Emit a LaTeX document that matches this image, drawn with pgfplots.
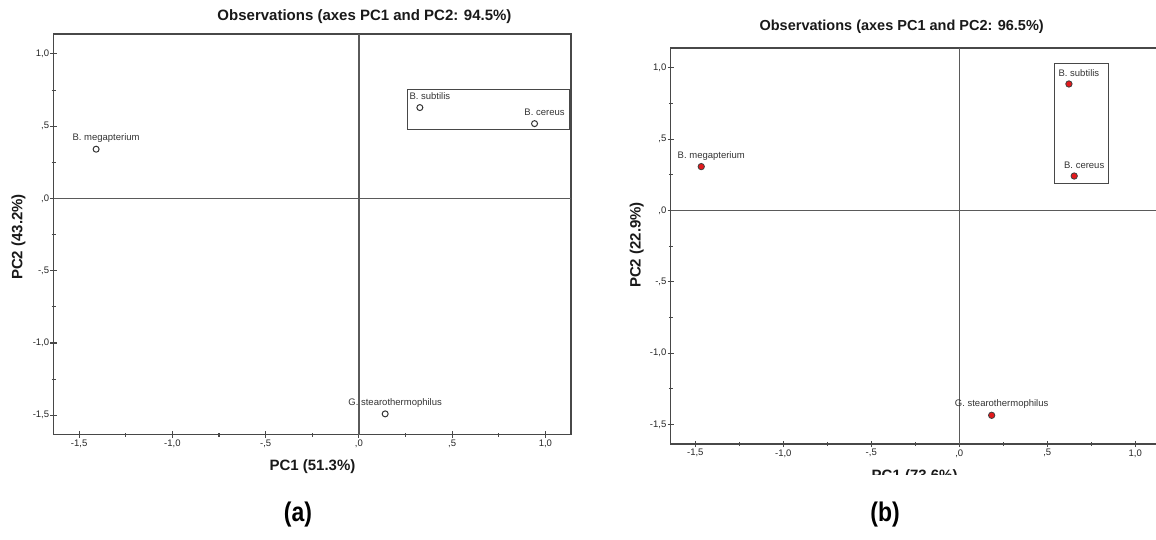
\documentclass[border=0pt]{standalone}
\usepackage{pgfplots}
\pgfplotsset{compat=1.18}
\usepackage{fontspec}
\setmainfont{Liberation Sans}
\usepackage{graphicx}
\definecolor{axgray}{HTML}{484848}
\definecolor{ptred}{HTML}{E3191C}
\newcommand{\fs}[1]{\fontsize{#1}{#1}\selectfont}
\pgfplotsset{
  spss/.style={
    scale only axis, anchor=south west,
    axis line style={axgray, line width=1.25pt},
    xtick={-1.5,-1,-0.5,0,0.5,1},
    xticklabels={-1{,}5,-1{,}0,-{,}5,{,}0,{,}5,1{,}0},
    ytick={-1.5,-1,-0.5,0,0.5,1},
    yticklabels={-1{,}5,-1{,}0,-{,}5,{,}0,{,}5,1{,}0},
    minor x tick num=1, minor y tick num=1,
    tick align=center, tick pos=left,
    major tick length=6.5pt, minor tick length=4pt,
    every tick/.style={axgray, line width=1.1pt},
    ticklabel style={font=\fs{9.5}, text=black!85},
    yticklabel style={inner sep=1pt},
    xticklabel style={inner sep=1pt, yshift=-1pt},
    clip=false,
  },
}
\tikzset{lab/.style={font=\fs{9.5}, text=black!80, inner sep=0pt, xshift=10pt, yshift=11pt}}
\begin{document}
\begin{tikzpicture}
% ---------------- panel (a)
\begin{axis}[spss, at={(53.6pt,105.3pt)}, width=517.3pt, height=400.7pt,
  xmin=-1.637, xmax=1.137, ymin=-1.634, ymax=1.138]
\draw[axgray!90, line width=1.3pt] (axis cs:0,-1.634) -- (axis cs:0,1.138);
\draw[axgray!90, line width=1.3pt] (axis cs:-1.637,0) -- (axis cs:1.137,0);
\draw[axgray, line width=0.9pt] (axis cs:0.261,0.475) rectangle (axis cs:1.130,0.756);
\addplot[only marks, mark=*, mark size=3pt, mark options={fill=white, draw=black!80, line width=1pt}]
  coordinates {(-1.409,0.341) (0.327,0.629) (0.942,0.518) (0.141,-1.490)};
\node[lab] at (axis cs:-1.409,0.341) {B. megapterium};
\node[lab] at (axis cs:0.327,0.629) {B. subtilis};
\node[lab] at (axis cs:0.942,0.518) {B. cereus};
\node[lab] at (axis cs:0.141,-1.490) {G. stearothermophilus};
\end{axis}
% ---------------- panel (b)
\begin{axis}[spss, at={(670.8pt,96pt)}, width=489.1pt, height=396.1pt,
  xmin=-1.639, xmax=1.14, ymin=-1.636, ymax=1.140]
\draw[axgray!90, line width=1.3pt] (axis cs:0,-1.636) -- (axis cs:0,1.140);
\draw[axgray!90, line width=1.3pt] (axis cs:-1.639,0) -- (axis cs:1.14,0);
\draw[axgray, line width=0.9pt] (axis cs:0.542,0.193) rectangle (axis cs:0.845,1.034);
\addplot[only marks, mark=*, mark size=3.2pt, mark options={fill=ptred, draw=black!75, line width=0.8pt}]
  coordinates {(-1.466,0.308) (0.623,0.887) (0.653,0.242) (0.184,-1.435)};
\node[lab] at (axis cs:-1.466,0.308) {B. megapterium};
\node[lab] at (axis cs:0.623,0.887) {B. subtilis};
\node[lab] at (axis cs:0.653,0.242) {B. cereus};
\node[lab] at (axis cs:0.184,-1.435) {G. stearothermophilus};
\end{axis}
% titles and labels
\node[font=\fs{15}\bfseries, text=black!90] at (364.5pt,523.3pt) {Observations (axes PC1 and PC2: 94.5\%)};
\node[font=\fs{14.5}\bfseries, text=black!90] at (901.7pt,513.3pt) {Observations (axes PC1 and PC2: 96.5\%)};
\node[font=\fs{15}\bfseries, text=black!90] at (312.5pt,73.3pt) {PC1 (51.3\%)};
\node[font=\fs{15}\bfseries, text=black!90, rotate=90] at (18.5pt,303pt) {PC2 (43.2\%)};
\node[font=\fs{15}\bfseries, text=black!90, rotate=90] at (636.7pt,295pt) {PC2 (22.9\%)};
\node[font=\fs{15}\bfseries, text=black!90, anchor=base] at (914.6pt,59.3pt) {PC1 (73.6\%)};
\fill[white] (850pt,40pt) rectangle (990pt,65pt);
\node[font=\fs{27}\bfseries] at (298pt,25pt) {\scalebox{0.85}[1]{(a)}};
\node[font=\fs{27}\bfseries] at (885pt,25pt) {\scalebox{0.85}[1]{(b)}};
\pgfresetboundingbox
\path[use as bounding box] (0,0) rectangle (1156pt,540pt);
\end{tikzpicture}
\end{document}
